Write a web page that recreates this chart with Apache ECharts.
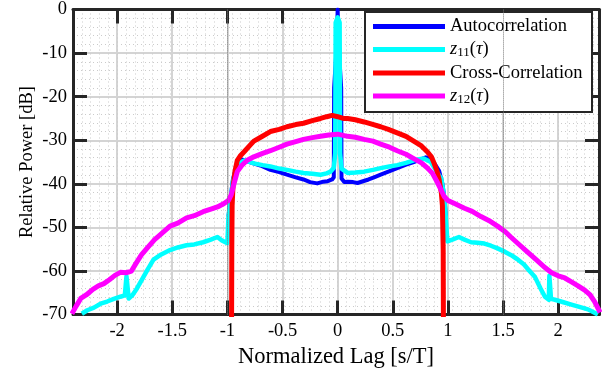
<!DOCTYPE html>
<html lang="en">

<head>
    <meta charset="UTF-8">
    <title>Correlation</title>
    <script src="https://cdn.jsdelivr.net/npm/echarts@6/dist/echarts.min.js"></script>
    <style>
        html, body { margin: 0; padding: 0; background: #fff; }
        #chart { width: 607px; height: 374px; }
    </style>
</head>

<body>
    <div id="chart"></div>
    <script>
        // tick labels
        const xTicks = [-2, -1.5, -1, -0.5, 0, 0.5, 1, 1.5, 2];

        // Autocorrelation (only the part not hidden under z11)
        const autoCorr = [
            [-0.99, -47.5], [-0.97, -43], [-0.95, -39], [-0.92, -36], [-0.87, -34.4], [-0.8, -35],
            [-0.7, -35.8], [-0.61, -36.8], [-0.53, -37.3], [-0.46, -37.9], [-0.38, -38.5], [-0.31, -39],
            [-0.25, -39.6], [-0.185, -39.9], [-0.13, -39.5], [-0.09, -39.4], [-0.05, -39], [-0.035, -38.5],
            [-0.032, -18], [-0.008, -8], [0, 0], [0.008, -8], [0.032, -18], [0.035, -38.8],
            [0.06, -39.6], [0.09, -39.5], [0.14, -39.6], [0.18, -39.8], [0.23, -39.4], [0.28, -39],
            [0.33, -38.5], [0.39, -37.9], [0.46, -37.2], [0.54, -36.4], [0.62, -35.6], [0.69, -35],
            [0.8, -33.9], [0.86, -34.6], [0.92, -37], [0.95, -40], [0.97, -43.5], [0.98, -47.5]
        ];

        const z11 = [
            [-2.32, -69.8], [-2.27, -69], [-2.21, -68.4], [-2.15, -67.5], [-2.09, -67], [-2.03, -66.4],
            [-1.97, -65.9], [-1.93, -65.6], [-1.915, -61.2], [-1.905, -61.4], [-1.895, -66.3], [-1.86, -65.5],
            [-1.82, -64], [-1.78, -62.2], [-1.72, -59.5], [-1.67, -57.4], [-1.6, -56.2], [-1.52, -55.2],
            [-1.45, -54.6], [-1.37, -54.1], [-1.3, -53.9], [-1.22, -53.4], [-1.15, -52.8], [-1.09, -52.2],
            [-1.05, -53], [-1.0, -53.6], [-0.99, -47.5], [-0.97, -43.5], [-0.95, -39.5], [-0.92, -36.5],
            [-0.88, -35], [-0.84, -34.6], [-0.76, -35.3], [-0.68, -35.7], [-0.61, -36], [-0.53, -36.5],
            [-0.46, -36.8], [-0.38, -37.2], [-0.31, -37.5], [-0.23, -37.7], [-0.155, -37.9], [-0.1, -37.6],
            [-0.064, -37.2], [-0.035, -36.3], [-0.022, -33], [-0.018, -3], [0, -1.8], [0.018, -3],
            [0.022, -33], [0.035, -36.5], [0.09, -37.5], [0.16, -37.4], [0.24, -37.2], [0.32, -36.8],
            [0.39, -36.4], [0.47, -36], [0.54, -35.7], [0.62, -35.2], [0.69, -34.6], [0.78, -34.2],
            [0.845, -35], [0.905, -37.5], [0.94, -38.8], [0.966, -43], [0.98, -47.5], [0.995, -53.2],
            [1.04, -52.8], [1.1, -52.2], [1.15, -52.8], [1.21, -53.4], [1.27, -53.5], [1.33, -53.7],
            [1.39, -54.2], [1.45, -54.8], [1.51, -55.5], [1.57, -56.3], [1.63, -57.3], [1.69, -58.5],
            [1.74, -60], [1.79, -61.4], [1.84, -64], [1.88, -65.9], [1.915, -66.6], [1.92, -61.1],
            [1.93, -61.3], [1.935, -66.4], [1.97, -66.6], [2.04, -67.1], [2.12, -67.7], [2.2, -68.3],
            [2.27, -68.8], [2.33, -69.6], [2.36, -70]
        ];

        const crossCorr = [
            [-0.963, -80], [-0.96, -55], [-0.957, -45], [-0.95, -41], [-0.93, -37], [-0.91, -34.6],
            [-0.88, -33.5], [-0.85, -32.7], [-0.8, -31.3], [-0.76, -30.2], [-0.69, -29.2], [-0.61, -28],
            [-0.53, -27.5], [-0.46, -26.9], [-0.38, -26.4], [-0.31, -26.1], [-0.23, -25.5], [-0.155, -25],
            [-0.1, -24.6], [-0.05, -24.3], [0, -24.6], [0.05, -25], [0.09, -25], [0.16, -25.3],
            [0.24, -25.8], [0.31, -26.3], [0.39, -26.9], [0.46, -27.5], [0.54, -28.3], [0.62, -29.1],
            [0.69, -30.2], [0.76, -31.3], [0.815, -32.7], [0.85, -33.8], [0.875, -35.3], [0.9, -37],
            [0.92, -39], [0.94, -42], [0.95, -45], [0.957, -55], [0.96, -80]
        ];

        const z12 = [
            [-2.41, -69.8], [-2.37, -68], [-2.33, -66.3], [-2.28, -65.5], [-2.22, -64.2], [-2.17, -63.4],
            [-2.12, -62.9], [-2.07, -62], [-2.02, -61], [-1.97, -60.3], [-1.92, -60.4], [-1.87, -60],
            [-1.83, -58.3], [-1.78, -56.3], [-1.72, -54.5], [-1.66, -52.8], [-1.6, -51.5], [-1.52, -49.7],
            [-1.45, -49], [-1.37, -47.8], [-1.3, -47.3], [-1.22, -46.4], [-1.15, -45.8], [-1.09, -45.3],
            [-1.03, -44.5], [-0.99, -43.8], [-0.965, -42.5], [-0.94, -40], [-0.91, -37.2], [-0.87, -35.8],
            [-0.82, -34.6], [-0.76, -33.8], [-0.68, -33], [-0.61, -32.4], [-0.53, -31.6], [-0.46, -30.9],
            [-0.38, -30.3], [-0.31, -29.8], [-0.23, -29.4], [-0.155, -29.1], [-0.08, -28.8], [0, -28.6],
            [0.09, -29.1], [0.16, -29.3], [0.24, -29.8], [0.32, -30.2], [0.39, -30.9], [0.47, -31.6],
            [0.54, -32.4], [0.62, -33.2], [0.69, -34.2], [0.76, -35.2], [0.815, -36.4], [0.86, -37.6],
            [0.905, -39.7], [0.94, -41.5], [0.966, -42.9], [1.0, -43.8], [1.06, -44.5], [1.15, -45.6],
            [1.22, -46.3], [1.3, -47.5], [1.37, -48.4], [1.45, -49.7], [1.52, -51], [1.57, -52.2],
            [1.64, -53.8], [1.72, -55.6], [1.8, -57.4], [1.88, -59.2], [1.94, -60.4], [2.0, -61.1],
            [2.06, -61.6], [2.12, -62.5], [2.18, -63.4], [2.24, -64.4], [2.29, -65.5], [2.33, -67],
            [2.36, -68.5], [2.38, -69.5]
        ];

        const serif = 'Liberation Serif';
        const axisColor = '#262626';
        const xMin = -2.4, xMax = 2.37;

        var chartDom = document.getElementById('chart');
        var myChart = echarts.init(chartDom, null, { renderer: 'canvas' });

        function line(name, data, color, width) {
            return {
                name: name,
                type: 'line',
                data: data,
                xAxisIndex: 0,
                yAxisIndex: 0,
                showSymbol: false,
                clip: true,
                lineStyle: { color: color, width: width, join: 'round' },
                itemStyle: { color: color }
            };
        }

        const series = [
            line('Autocorrelation', autoCorr, '#0000ff', 4),
            line('z11', z11, '#00ffff', 4.5),
            line('Cross-Correlation', crossCorr, '#ff0000', 5),
            line('z12', z12, '#ff00ff', 5)
        ];
        // dark dotted rendering artefacts
        series[0].markLine = {
            silent: true,
            symbol: 'none',
            label: { show: false },
            lineStyle: { type: 'dotted', color: '#777', width: 1 },
            data: [{ xAxis: -1 }, { xAxis: 1.5 }]
        };

        var option = {
            animation: false,
            backgroundColor: '#fff',
            grid: { left: 73, top: 5, width: 526, height: 317 },
            legend: {
                orient: 'vertical',
                left: 365,
                top: 12,
                padding: [5, 6, 6, 8],
                itemGap: 4,
                itemWidth: 72,
                itemHeight: 5,
                icon: 'rect',
                backgroundColor: '#fff',
                borderColor: axisColor,
                borderWidth: 2,
                textStyle: {
                    fontFamily: serif, fontSize: 18.5, color: '#000', lineHeight: 18, width: 136,
                    rich: {
                        it: { fontFamily: serif, fontSize: 18.5, fontStyle: 'italic', color: '#000' },
                        sub: { fontFamily: serif, fontSize: 13, color: '#000', padding: [7, 0, 0, 0] }
                    }
                },
                formatter: function (name) {
                    if (name === 'z11') return '{it|z}{sub|11}({it|τ})';
                    if (name === 'z12') return '{it|z}{sub|12}({it|τ})';
                    return name;
                },
                data: ['Autocorrelation', 'z11', 'Cross-Correlation', 'z12']
            },
            xAxis: [
                {
                    type: 'value', position: 'bottom', min: xMin, max: xMax,
                    name: 'Normalized Lag [s/T]', nameLocation: 'middle', nameGap: 40,
                    nameTextStyle: { fontFamily: serif, fontSize: 22.5, color: '#000', verticalAlign: 'middle' },
                    axisLine: { onZero: false, lineStyle: { color: axisColor, width: 3 } },
                    axisTick: { inside: true, length: 14, customValues: xTicks, lineStyle: { color: axisColor, width: 3 } },
                    axisLabel: { customValues: xTicks, fontFamily: serif, fontSize: 18.5, color: '#000', margin: 17, verticalAlign: 'middle' },
                    splitLine: { show: true, customValues: xTicks, lineStyle: { color: '#d4d4d4', width: 2 } }
                },
                {
                    type: 'value', position: 'top', min: xMin, max: xMax,
                    axisLine: { onZero: false, lineStyle: { color: axisColor, width: 3 } },
                    axisTick: { inside: true, length: 14, customValues: xTicks, lineStyle: { color: axisColor, width: 3 } },
                    axisLabel: { show: false },
                    splitLine: { show: false }
                },
                {
                    // minor dotted grid
                    type: 'value', min: xMin, max: xMax, interval: 0.08,
                    axisLine: { show: false }, axisTick: { show: false }, axisLabel: { show: false },
                    splitLine: { show: true, lineStyle: { color: '#cbcbcb', width: 1, type: [1, 3] } }
                }
            ],
            yAxis: [
                {
                    type: 'value', position: 'left', min: -70, max: 0, interval: 10,
                    name: 'Relative Power [dB]', nameLocation: 'middle', nameGap: 46, nameMoveOverlap: false,
                    nameTextStyle: { fontFamily: serif, fontSize: 18.5, color: '#000', verticalAlign: 'middle' },
                    axisLine: { onZero: false, lineStyle: { color: axisColor, width: 3 } },
                    axisTick: { inside: true, length: 14, lineStyle: { color: axisColor, width: 3 } },
                    axisLabel: { fontFamily: serif, fontSize: 18.5, color: '#000', margin: 6 },
                    splitLine: { show: true, lineStyle: { color: '#d4d4d4', width: 2 } },
                    minorTick: { show: false, splitNumber: 5 },
                    minorSplitLine: { show: true, lineStyle: { color: '#cbcbcb', width: 1, type: [1, 3] } }
                },
                {
                    type: 'value', position: 'right', min: -70, max: 0, interval: 10,
                    axisLine: { show: true, onZero: false, lineStyle: { color: axisColor, width: 3 } },
                    axisTick: { show: true, inside: true, length: 14, lineStyle: { color: axisColor, width: 3 } },
                    axisLabel: { show: false },
                    splitLine: { show: false }
                }
            ],
            series: series
        };

        option && myChart.setOption(option);
    </script>

</body>

</html>
